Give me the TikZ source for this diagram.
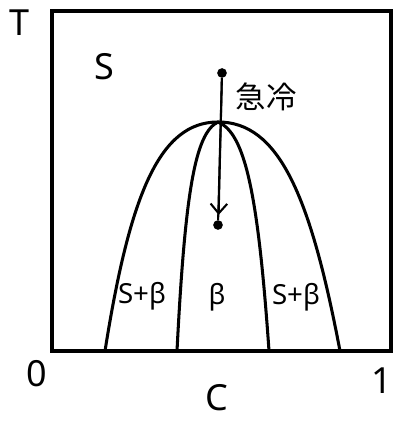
\documentclass[tikz,border=0pt]{standalone}
\usepackage{fontspec}
\setmainfont{Noto Sans}
\newfontfamily\cjk{Noto Sans CJK JP}
\usetikzlibrary{arrows.meta}

\tikzset{
  lbl/.style={inner sep=0pt, font=\fontsize{26}{28}\selectfont},
  phase/.style={inner sep=0pt, font=\fontsize{20}{22}\selectfont},
  dot/.style={circle, fill, inner sep=0pt, minimum size=7pt},
  curve/.style={line width=2.2pt},
}

\begin{document}
\begin{tikzpicture}[x=0.254mm, y=0.254mm]
  \useasboundingbox (0,0) rectangle (394,423);

  % frame
  \draw[line width=2.4pt] (52,72) rectangle (391,412);

  % phase boundaries
  \draw[curve] (105,72) .. controls (130,230) and (160,301) .. (218,301);
  \draw[curve] (340,72) .. controls (310,230) and (278,301) .. (218,301);
  \draw[curve] (177,72) .. controls (185,230) and (195,290) .. (218,301);
  \draw[curve] (269,72) .. controls (258,230) and (245,290) .. (218,301);

  % axes labels
  \node[lbl] (tAx) at (20,400) {T};
  \node[lbl] (cAx) at (217,25) {C};
  \node[lbl] (zero) at (37,49) {0};
  \node[lbl] (one) at (382,42) {1};

  % phases
  \node[lbl] (sPh) at (104,356) {S};
  \node[phase] (sbL) at (142,127) {S+β};
  \node[phase] (bPh) at (217,126) {β};
  \node[phase] (sbR) at (296,126) {S+β};

  % quench
  \node[dot] (hot) at (222,350) {};
  \node[dot] (cold) at (218,198) {};
  \coordinate (tip) at (218.6,208);
  \draw[line width=1.5pt] (hot) -- (cold);
  \draw[line width=1.5pt, -{Straight Barb[length=7pt, width=12pt]}] (hot) -- (tip);
  \node[inner sep=0pt, font=\cjk\fontsize{22}{24}\selectfont] (quench) at (266,326) {急冷};

\end{tikzpicture}
\end{document}
